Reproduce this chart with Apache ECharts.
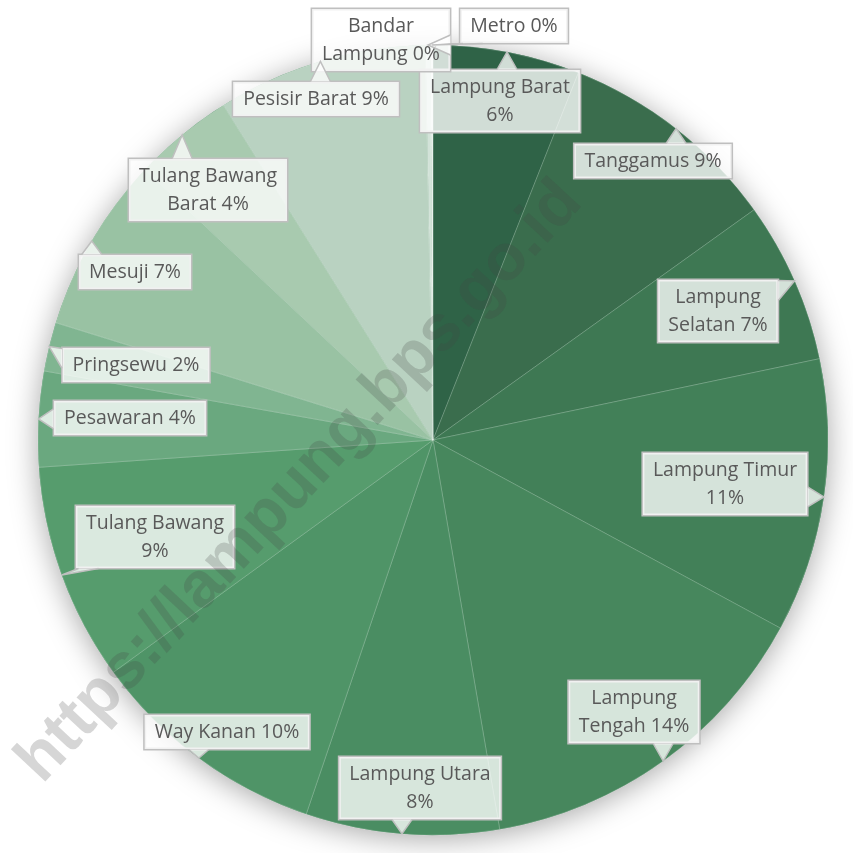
<!DOCTYPE html>
<html>
<head>
<meta charset="utf-8">
<script src="https://cdn.jsdelivr.net/npm/echarts@6/dist/echarts.min.js"></script>
<style>
  html, body { margin: 0; padding: 0; background: #fff; }
  #chart { width: 853px; height: 853px; }
</style>
</head>
<body>
<div id="chart"></div>
<script>
// kabupaten/kota, clockwise from the top
const regions = [
  'Lampung Barat', 'Tanggamus', 'Lampung Selatan', 'Lampung Timur', 'Lampung Tengah',
  'Lampung Utara', 'Way Kanan', 'Tulang Bawang', 'Pesawaran', 'Pringsewu',
  'Mesuji', 'Tulang Bawang Barat', 'Pesisir Barat', 'Bandar Lampung', 'Metro'
]
// share (%)
const shares = [6.0, 9.1, 6.6, 11.2, 14.4, 7.9, 9.8, 8.9, 3.9, 2.0, 7.2, 4.1, 8.6, 0.2, 0.1]
// how each label wraps
const labelText = [
  'Lampung Barat\n{p}', 'Tanggamus {p}', 'Lampung\nSelatan {p}', 'Lampung Timur\n{p}', 'Lampung\nTengah {p}',
  'Lampung Utara\n{p}', 'Way Kanan {p}', 'Tulang Bawang\n{p}', 'Pesawaran {p}', 'Pringsewu {p}',
  'Mesuji {p}', 'Tulang Bawang\nBarat {p}', 'Pesisir Barat {p}', 'Bandar\nLampung {p}', 'Metro {p}'
]
const sliceColors = [
  '#2f6347', '#3a6d4d', '#3e7853', '#428058', '#47875d',
  '#4a8d62', '#4f9467', '#569c6d', '#6aa87f', '#80b591',
  '#99c2a3', '#a8caaf', '#b9d2c1', '#d2e2d8', '#e6efe9'
]
// callout box centres
const labelCenters = [
  [500, 101], [653, 161], [718, 311], [725, 484], [634, 712],
  [420, 788], [227, 732], [155, 537], [130, 418], [136, 365],
  [135, 272], [208, 190], [316, 99], [381, 40], [514, 26]
]

const cx = 433
const cy = 440
const r = 395
const boxFill = 'rgba(255,255,255,0.78)'
const boxLine = '#bfbfbf'

// point on the rim at the middle of slice i (callout tip)
const total = shares.reduce((a, b) => a + b, 0)
function rimPoint(i) {
  let before = 0
  for (let k = 0; k < i; k++) before += shares[k]
  const a = (before + shares[i] / 2) / total * Math.PI * 2
  return [cx + r * Math.sin(a), cy - r * Math.cos(a)]
}

const boxRects = []

const chart = echarts.init(document.getElementById('chart'))

const watermark = {
  type: 'text',
  z: 100,
  x: 300,
  y: 482,
  rotation: Math.PI / 180 * 47,
  style: {
    text: 'https://lampung.bps.go.id',
    font: 'bold 65px "Liberation Sans", Arial, sans-serif',
    fill: 'rgba(70,70,70,0.22)',
    align: 'center',
    verticalAlign: 'middle'
  }
}

const option = {
  animation: false,
  graphic: [watermark],
  series: [
    {
      // shadow disc under the pie
      type: 'pie',
      silent: true,
      center: [cx, cy],
      radius: r,
      z: 1,
      label: { show: false },
      labelLine: { show: false },
      itemStyle: {
        color: '#4a8d62',
        shadowBlur: 30,
        shadowColor: 'rgba(0,0,0,0.35)',
        shadowOffsetY: 4
      },
      data: [1]
    },
    {
      type: 'pie',
      center: [cx, cy],
      radius: r,
      z: 2,
      startAngle: 90,
      clockwise: true,
      avoidLabelOverlap: false,
      itemStyle: {
        borderColor: 'rgba(255,255,255,0.3)',
        borderWidth: 0.6
      },
      label: {
        show: true,
        position: 'outside',
        formatter: p => labelText[p.dataIndex].replace('{p}', Math.round(p.percent) + '%'),
        fontFamily: '"Open Sans", "Noto Sans", sans-serif',
        fontSize: 19.5,
        lineHeight: 28,
        color: '#595959',
        align: 'center',
        backgroundColor: boxFill,
        borderColor: boxLine,
        borderWidth: 1.5,
        padding: [3, 10]
      },
      labelLine: { show: false },
      labelLayout: function (params) {
        const i = params.dataIndex
        const c = labelCenters[i]
        boxRects[i] = {
          x0: c[0] - params.labelRect.width / 2,
          x1: c[0] + params.labelRect.width / 2,
          y0: c[1] - params.labelRect.height / 2,
          y1: c[1] + params.labelRect.height / 2
        }
        return { x: c[0], y: c[1], align: 'center', verticalAlign: 'middle' }
      },
      data: regions.map((name, i) => ({
        name,
        value: shares[i],
        itemStyle: { color: sliceColors[i] }
      }))
    }
  ]
}

chart.setOption(option)

// callout pointers: a small wedge from the slice rim to the nearest side of its box
function wedge(i) {
  const t = rimPoint(i)
  const b = boxRects[i]
  const half = 10
  let p1, p2
  if (t[1] < b.y0 || t[1] > b.y1) {
    const y = t[1] < b.y0 ? b.y0 + 1 : b.y1 - 1
    const m = Math.min(Math.max(t[0], b.x0 + half + 4), b.x1 - half - 4)
    p1 = [m - half, y]
    p2 = [m + half, y]
  } else {
    const x = t[0] < b.x0 ? b.x0 + 1 : b.x1 - 1
    const m = Math.min(Math.max(t[1], b.y0 + half + 2), b.y1 - half - 2)
    p1 = [x, m - half]
    p2 = [x, m + half]
  }
  return [
    { type: 'polygon', z: 50, silent: true, shape: { points: [p1, t, p2] }, style: { fill: boxFill } },
    { type: 'polyline', z: 51, silent: true, shape: { points: [p1, t, p2] }, style: { stroke: boxLine, lineWidth: 1.5, fill: null } }
  ]
}

const pointers = []
regions.forEach((_, i) => { if (boxRects[i]) pointers.push(...wedge(i)) })
chart.setOption({ graphic: [watermark].concat(pointers) })
</script>
</body>
</html>
